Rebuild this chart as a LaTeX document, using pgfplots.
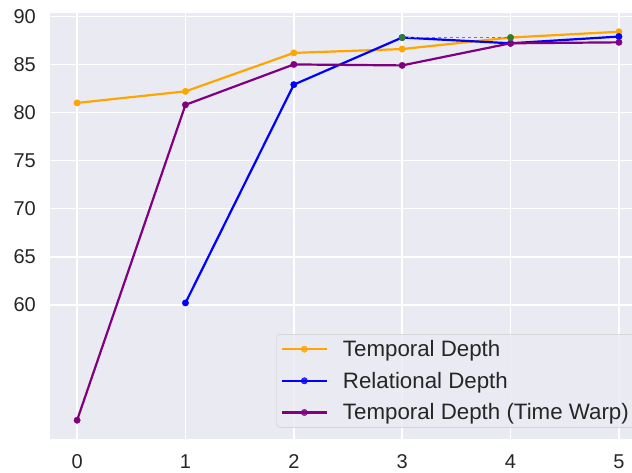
\documentclass[border=0pt]{standalone}
\usepackage{fontspec}
\setmainfont{Liberation Sans}
\usepackage{pgfplots}
\pgfplotsset{compat=1.18}
\definecolor{sbbg}{HTML}{EAEAF2}
\definecolor{sbtext}{HTML}{262626}
\definecolor{mplorange}{HTML}{FFA500}
\definecolor{mplblue}{HTML}{0000FF}
\definecolor{mplpurple}{HTML}{800080}
\definecolor{mplgreen}{HTML}{2F7F2F}
\begin{document}
\begin{tikzpicture}
\begin{axis}[
  scale only axis,
  width=596pt, height=425.5pt,
  xmin=-0.25, xmax=5.25,
  ymin=46.1, ymax=90.35,
  xtick={0,1,2,3,4,5},
  ytick={60,65,70,75,80,85,90},
  axis background/.style={fill=sbbg},
  axis line style={draw=none},
  grid=major,
  major grid style={white, line width=1.5pt},
  major tick length=0pt,
  tick style={draw=none},
  /pgf/number format/assume math mode=true,
  ticklabel style={font=\fontsize{20}{24}\selectfont, text=sbtext},
  xticklabel style={inner sep=0pt, yshift=-16pt},
  yticklabel style={inner sep=0pt, xshift=-14pt},
  legend style={
    at={(1,0)}, anchor=south east, xshift=-11pt, yshift=11pt,
    fill=sbbg, fill opacity=0.8, text opacity=1, draw=black!20,
    rounded corners=3pt, font=\fontsize{22.3}{26}\selectfont,
    text=sbtext, row sep=10pt, inner sep=4pt,
  },
  legend cell align={left},
  legend image code/.code={
    \draw[mark repeat=2, mark phase=2, #1]
      plot coordinates {(0pt,0pt) (22.5pt,0pt) (45pt,0pt)};
    \path (58pt,0pt);
  },
  every axis plot/.append style={line width=2.2pt, mark=*, mark size=3.2pt,
    mark options={solid, line width=0.4pt}},
]
\addplot[mplorange] coordinates {
  (0,81.0) (1,82.2) (2,86.2) (3,86.6) (4,87.8) (5,88.4)
};
\addlegendentry{Temporal Depth}
\addplot[mplblue] coordinates {
  (1,60.2) (2,82.9) (3,87.8) (4,87.2) (5,87.9)
};
\addlegendentry{Relational Depth}
\addplot[mplpurple] coordinates {
  (0,48.0) (1,80.8) (2,85.0) (3,84.9) (4,87.2) (5,87.3)
};
\addlegendentry{Temporal Depth (Time Warp)}
\addplot[gray, dashed, line width=0.8pt, mark=none, forget plot] coordinates {
  (3,87.8) (4,87.8)
};
\addplot[mplgreen, only marks, forget plot] coordinates {
  (3,87.8) (4,87.8)
};
\end{axis}
\pgfresetboundingbox
\path ([xshift=-50pt,yshift=-33.5pt]current axis.south west)
  rectangle ([xshift=-14pt,yshift=13pt]current axis.north east);
\end{tikzpicture}
\end{document}
